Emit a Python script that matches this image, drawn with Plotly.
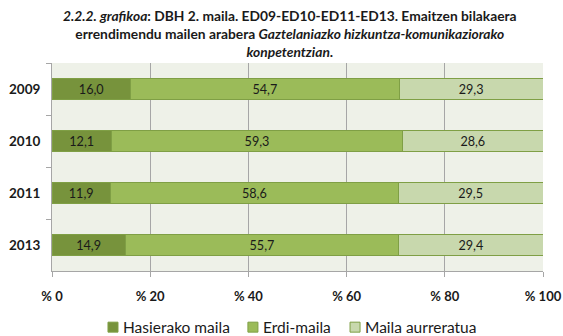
import plotly.graph_objects as go

# Years and percentage of students per performance level
years = ["2009", "2010", "2011", "2013"]
hasierako = [16.0, 12.1, 11.9, 14.9]
erdi = [54.7, 59.3, 58.6, 55.7]
aurreratua = [29.3, 28.6, 29.5, 29.4]

series_names = ["Hasierako maila", "Erdi-maila", "Maila aurreratua"]
series_values = [hasierako, erdi, aurreratua]
series_colors = ["#77933C", "#9BBB59", "#C8D8AD"]

x_ticks = [0, 20, 40, 60, 80, 100]
x_tick_labels = ["% 0", "% 20", "% 40", "% 60", "% 80", "% 100"]

FONT = "Lato"
TEXT = "#1a1a1a"
EDGE = "#7F9F45"

fig = go.Figure()
for name, vals, col in zip(series_names, series_values, series_colors):
    fig.add_trace(go.Bar(
        y=years,
        x=vals,
        name=name,
        orientation="h",
        width=0.4,
        marker=dict(color=col, line=dict(color=EDGE, width=1)),
        text=[f"{v:.1f}".replace(".", ",") for v in vals],
        textposition="inside",
        insidetextanchor="middle",
        textfont=dict(family=FONT, size=14.5, color=TEXT),
        hoverinfo="skip",
        showlegend=False,
    ))

title_text = (
    "<b><i>2.2.2. grafikoa</i>: DBH 2. maila. ED09-ED10-ED11-ED13. Emaitzen bilakaera<br>"
    "errendimendu mailen arabera <i>Gaztelaniazko hizkuntza-komunikaziorako</i><br>"
    "<i>konpetentzian</i>.</b>"
)

fig.update_layout(
    width=563,
    height=336,
    barmode="stack",
    paper_bgcolor="white",
    plot_bgcolor="#EEF1E8",
    margin=dict(l=52, r=20, t=63, b=65, autoexpand=False),
    font=dict(family=FONT, color=TEXT),
    showlegend=False,
    xaxis=dict(
        range=[0, 100],
        tickvals=x_ticks,
        ticktext=x_tick_labels,
        tickfont=dict(family=FONT, size=13, color=TEXT, weight="bold"),
        showgrid=True,
        gridcolor="#A6A6A6",
        gridwidth=1,
        showline=True,
        linecolor="#A6A6A6",
        ticks="outside",
        ticklen=5,
        tickcolor="#A6A6A6",
        ticklabelstandoff=8,
        zeroline=False,
        automargin=False,
        fixedrange=True,
    ),
    yaxis=dict(
        type="category",
        categoryorder="array",
        categoryarray=years,
        autorange="reversed",
        tickfont=dict(family=FONT, size=13.5, color=TEXT, weight="bold"),
        showline=True,
        linecolor="#A6A6A6",
        ticks="outside",
        tickson="boundaries",
        ticklen=5,
        tickcolor="#A6A6A6",
        ticklabelstandoff=8,
        showgrid=False,
        automargin=False,
        fixedrange=True,
    ),
)

# Title above the plot area
fig.add_annotation(
    text=title_text,
    xref="paper", yref="paper",
    x=0.485, y=1.0, yshift=1,
    xanchor="center", yanchor="bottom",
    showarrow=False,
    align="center",
    font=dict(family=FONT, size=13.8, color=TEXT),
)

# Legend row below the axis: small outlined squares followed by series names
legend_x = [0.114, 0.399, 0.607]   # left edge of each square, paper units
square_w = 0.0204                  # ~10 px
square_y0, square_y1 = -0.294, -0.246
for lx, name, col in zip(legend_x, series_names, series_colors):
    fig.add_shape(
        type="rect", xref="paper", yref="paper",
        x0=lx, x1=lx + square_w, y0=square_y0, y1=square_y1,
        fillcolor=col, line=dict(color=EDGE, width=1),
    )
    fig.add_annotation(
        text=name,
        xref="paper", yref="paper",
        x=lx + square_w + 0.006, y=(square_y0 + square_y1) / 2,
        xanchor="left", yanchor="middle",
        showarrow=False,
        font=dict(family=FONT, size=15.5, color=TEXT),
    )

fig.write_html("out.html")
